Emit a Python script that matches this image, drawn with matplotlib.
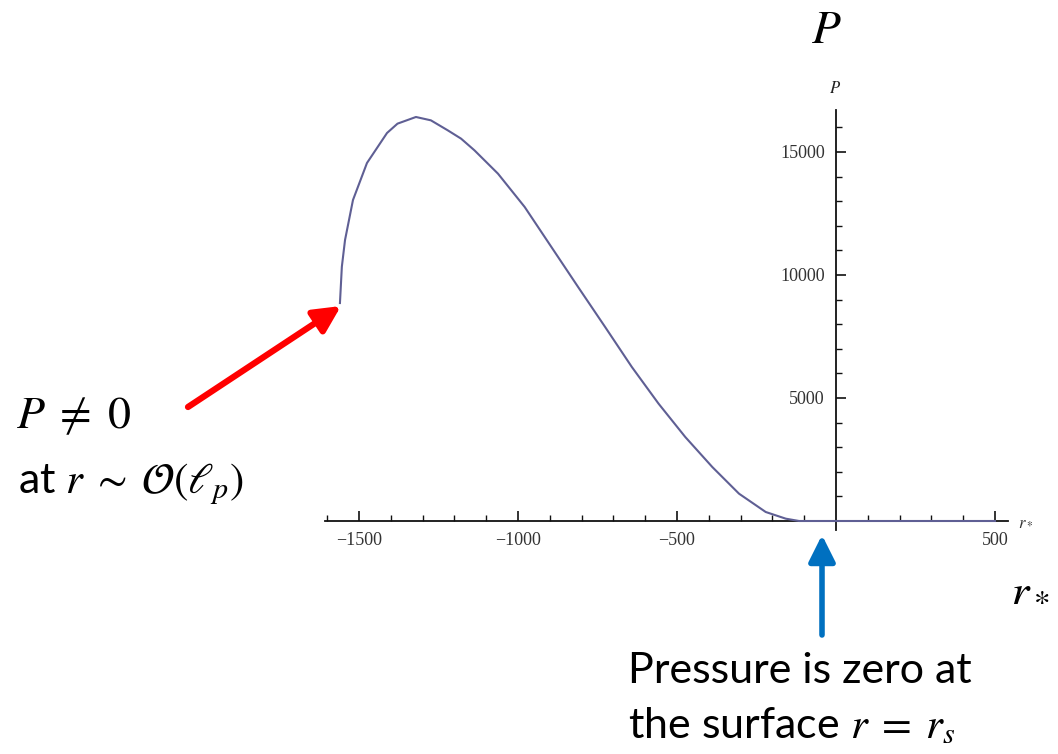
import matplotlib
matplotlib.use("Agg")
import matplotlib.pyplot as plt
from matplotlib.ticker import FixedLocator

plt.rcParams['mathtext.fontset'] = 'stix'

# ---- data ----
r_star = [-1560, -1554, -1544, -1519, -1475, -1412, -1379, -1321, -1274, -1221,
          -1179, -1137, -1063, -979, -895, -811, -726, -642, -558, -474, -389,
          -305, -221, -158, -116, 0, 250, 500]
pressure = [8860, 10337, 11423, 13049, 14553, 15772, 16152, 16423, 16287, 15881,
            15542, 15068, 14119, 12764, 11138, 9512, 7886, 6260, 4770, 3415, 2195,
            1111, 366, 95, 0, 0, 0, 0]
x_major = [-1500, -1000, -500, 500]
x_labels = ["\u22121500", "\u22121000", "\u2212500", "500"]
y_major = [5000, 10000, 15000]
y_labels = ["5000", "10000", "15000"]

W, H = 1058, 754
fig = plt.figure(figsize=(W / 100, H / 100), dpi=100)

# axes placed in pixel space
left_px, right_px, top_px, bot_px = 325, 1008, 110, 530
ax = fig.add_axes([left_px / W, 1 - bot_px / H, (right_px - left_px) / W, (bot_px - top_px) / H])
ax.set_xlim(-1607, 541)
ax.set_ylim(-366, 16707)
ax.patch.set_alpha(0)

for s in ['top', 'right']:
    ax.spines[s].set_visible(False)
ax.spines['left'].set_position(('data', 0))
ax.spines['bottom'].set_position(('data', 0))
for s in ['left', 'bottom']:
    ax.spines[s].set_linewidth(1.3)
    ax.spines[s].set_color('#111111')

ax.xaxis.set_major_locator(FixedLocator(x_major))
ax.yaxis.set_major_locator(FixedLocator(y_major))
ax.set_xticklabels(x_labels)
ax.set_yticklabels(y_labels)
ax.xaxis.set_minor_locator(FixedLocator([v for v in range(-1600, 501, 100) if v % 500 != 0]))
ax.yaxis.set_minor_locator(FixedLocator([v for v in range(1000, 16001, 1000) if v % 5000 != 0]))

for lab in ax.get_xticklabels() + ax.get_yticklabels():
    lab.set_fontfamily('Liberation Serif')
    lab.set_fontsize(13)
    lab.set_color('#333333')

ax.tick_params(axis='x', which='major', direction='in', length=7, width=1.2, pad=8, color='#111111')
ax.tick_params(axis='x', which='minor', direction='in', length=4, width=1.0, color='#111111')
ax.tick_params(axis='y', which='major', direction='in', length=7, width=1.2, pad=8, color='#111111')
ax.tick_params(axis='y', which='minor', direction='in', length=4, width=1.0, color='#111111')

ax.plot(r_star, pressure, color='#5f5f94', lw=1.5, zorder=5, clip_on=False,
        solid_joinstyle='round')

def fp(x, y):
    return (x / W, 1 - y / H)

# small axis labels
fig.text(*fp(835, 93), r'$P$', fontsize=12, ha='center', va='baseline', color='#222222')
fig.text(*fp(1018, 526), r'$r_*$', fontsize=12, ha='left', va='baseline', color='#333333')

# big labels
fig.text(*fp(826, 43), r'$P$', fontsize=34, ha='center', va='baseline')
fig.text(*fp(1010, 601), r'$r_*$', fontsize=34, ha='left', va='baseline')

main_font = 'Lato'
fig.text(*fp(16, 428), r'$P\;\neq\;0$', fontsize=33, ha='left', va='baseline')
fig.text(*fp(18, 493), r'at $r\;\sim\;\mathcal{O}(\ell_p)$', fontsize=31, ha='left',
         va='baseline', family=main_font)
fig.text(*fp(628, 683), 'Pressure is zero at', fontsize=31, ha='left', va='baseline',
         family=main_font)
fig.text(*fp(628, 738), r'the surface $r\;=\;r_s$', fontsize=31, ha='left', va='baseline',
         family=main_font)

# arrows
ax.annotate('', xy=(341, H - 306), xycoords='figure pixels',
            xytext=(188, H - 407), textcoords='figure pixels',
            arrowprops=dict(arrowstyle='-|>,head_length=1.0,head_width=0.5', color='#ff0000',
                            lw=4.5, shrinkA=0, shrinkB=0, mutation_scale=16))
ax.annotate('', xy=(822, H - 535), xycoords='figure pixels',
            xytext=(822, H - 635), textcoords='figure pixels',
            arrowprops=dict(arrowstyle='-|>,head_length=1.0,head_width=0.5', color='#0070c0',
                            lw=4, shrinkA=0, shrinkB=0, mutation_scale=16))

fig.savefig('out.png', dpi=100)
